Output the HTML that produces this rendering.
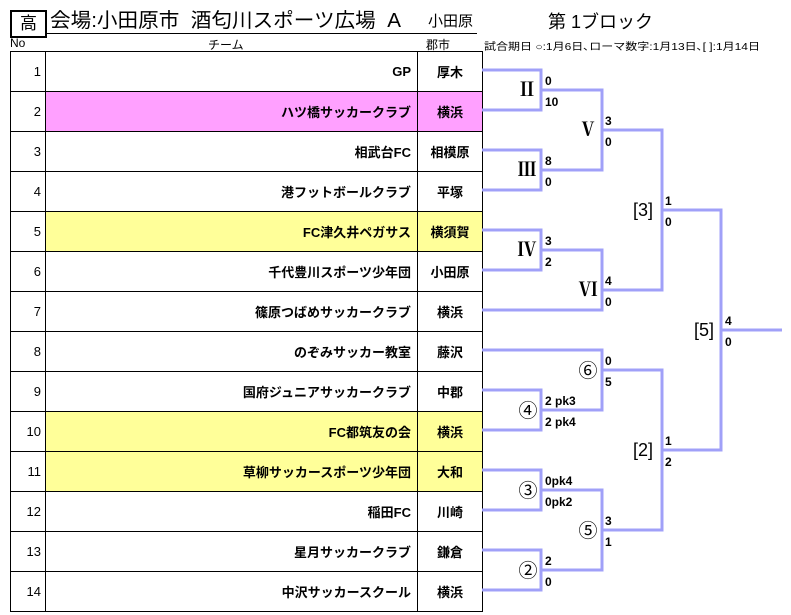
<!DOCTYPE html>
<html><head><meta charset="utf-8"><style>
body{margin:0;width:791px;height:615px;background:#fff;position:relative;overflow:hidden;font-family:"Liberation Sans","Noto Sans CJK JP",sans-serif;}
.a{position:absolute;white-space:nowrap;}
table{position:absolute;left:10px;top:51px;border-collapse:collapse;}
td{border:1px solid #000;height:39px;padding:0;font-size:13px;}
td.n{width:35px;text-align:right;padding-right:4px;box-sizing:border-box;}
td.t{width:372px;text-align:right;padding-right:6px;box-sizing:border-box;font-weight:bold;}
td.c{width:64px;text-align:center;font-weight:bold;}
.p{background:#ffa0ff}.y{background:#ffff99}
svg text{font-family:"Liberation Sans",sans-serif;font-size:12px;font-weight:bold;}
</style></head><body>
<div class="a" style="left:10px;top:10px;width:33px;height:24px;border:2px solid #000;font-size:17px;text-align:center;line-height:24px">高</div>
<div class="a" style="left:50px;top:9px;font-size:20px;line-height:24px;transform:scaleX(1.03);transform-origin:0 0">会場:小田原市&nbsp;&nbsp;酒匂川スポーツ広場&nbsp;&nbsp;A</div>
<div class="a" style="left:46px;top:33px;width:431px;border-top:1px solid #000"></div>
<div class="a" style="left:428px;top:11px;font-size:15px;line-height:22px">小田原</div>
<div class="a" style="left:548px;top:10px;font-size:18px;line-height:24px">第 1ブロック</div>
<div class="a" style="left:10px;top:36px;font-size:12px">No</div>
<div class="a" style="left:208px;top:36px;font-size:12px">チーム</div>
<div class="a" style="left:426px;top:36px;font-size:12px">郡市</div>
<div class="a" style="left:484px;top:38px;font-size:10px;transform:scaleX(1.2);transform-origin:0 0">試合期日 ○:1月6日､ローマ数字:1月13日､[ ]:1月14日</div>
<table>
<tr><td class="n">1</td><td class="t">GP</td><td class="c">厚木</td></tr>
<tr><td class="n">2</td><td class="t p">ハツ橋サッカークラブ</td><td class="c p">横浜</td></tr>
<tr><td class="n">3</td><td class="t">相武台FC</td><td class="c">相模原</td></tr>
<tr><td class="n">4</td><td class="t">港フットボールクラブ</td><td class="c">平塚</td></tr>
<tr><td class="n">5</td><td class="t y">FC津久井ペガサス</td><td class="c y">横須賀</td></tr>
<tr><td class="n">6</td><td class="t">千代豊川スポーツ少年団</td><td class="c">小田原</td></tr>
<tr><td class="n">7</td><td class="t">篠原つばめサッカークラブ</td><td class="c">横浜</td></tr>
<tr><td class="n">8</td><td class="t">のぞみサッカー教室</td><td class="c">藤沢</td></tr>
<tr><td class="n">9</td><td class="t">国府ジュニアサッカークラブ</td><td class="c">中郡</td></tr>
<tr><td class="n">10</td><td class="t y">FC都筑友の会</td><td class="c y">横浜</td></tr>
<tr><td class="n">11</td><td class="t y">草柳サッカースポーツ少年団</td><td class="c y">大和</td></tr>
<tr><td class="n">12</td><td class="t">稲田FC</td><td class="c">川崎</td></tr>
<tr><td class="n">13</td><td class="t">星月サッカークラブ</td><td class="c">鎌倉</td></tr>
<tr><td class="n">14</td><td class="t">中沢サッカースクール</td><td class="c">横浜</td></tr>
</table>
<svg class="a" style="left:0;top:0" width="791" height="615">
<g fill="none" stroke="#a0a0f8" stroke-width="3">
<polyline points="482,70 541,70 541,110 482,110"/>
<polyline points="482,150 541,150 541,190 482,190"/>
<polyline points="482,230 541,230 541,270 482,270"/>
<polyline points="482,390 541,390 541,430 482,430"/>
<polyline points="482,470 541,470 541,510 482,510"/>
<polyline points="482,550 541,550 541,590 482,590"/>
<polyline points="541,90 602,90 602,170 541,170"/>
<polyline points="541,250 602,250 602,310 482,310"/>
<polyline points="482,350 602,350 602,410 541,410"/>
<polyline points="541,490 602,490 602,570 541,570"/>
<polyline points="602,130 662,130 662,290 602,290"/>
<polyline points="602,370 662,370 662,530 602,530"/>
<polyline points="662,210 721,210 721,450 662,450"/>
<line x1="721" y1="330" x2="782" y2="330"/>
</g>
<g text-anchor="middle">
<text x="527" y="96" style="font-size:19px;font-weight:bold;font-family:'Liberation Serif','Noto Serif CJK SC',serif">Ⅱ</text>
<text x="527" y="176" style="font-size:19px;font-weight:bold;font-family:'Liberation Serif','Noto Serif CJK SC',serif">Ⅲ</text>
<text x="527" y="256" style="font-size:19px;font-weight:bold;font-family:'Liberation Serif','Noto Serif CJK SC',serif">Ⅳ</text>
<text x="588" y="136" style="font-size:19px;font-weight:bold;font-family:'Liberation Serif','Noto Serif CJK SC',serif">Ⅴ</text>
<text x="588" y="296" style="font-size:19px;font-weight:bold;font-family:'Liberation Serif','Noto Serif CJK SC',serif">Ⅵ</text>
<text x="643" y="216" style="font-size:18px;font-weight:normal;font-family:'Liberation Sans',sans-serif">[3]</text>
<text x="704" y="336" style="font-size:18px;font-weight:normal;font-family:'Liberation Sans',sans-serif">[5]</text>
<text x="643" y="456" style="font-size:18px;font-weight:normal;font-family:'Liberation Sans',sans-serif">[2]</text>
<text x="528" y="417" style="font-size:19px;font-weight:normal;font-family:'Liberation Sans','Noto Sans CJK JP',sans-serif">④</text>
<text x="528" y="497" style="font-size:19px;font-weight:normal;font-family:'Liberation Sans','Noto Sans CJK JP',sans-serif">③</text>
<text x="528" y="577" style="font-size:19px;font-weight:normal;font-family:'Liberation Sans','Noto Sans CJK JP',sans-serif">②</text>
<text x="588" y="377" style="font-size:19px;font-weight:normal;font-family:'Liberation Sans','Noto Sans CJK JP',sans-serif">⑥</text>
<text x="588" y="537" style="font-size:19px;font-weight:normal;font-family:'Liberation Sans','Noto Sans CJK JP',sans-serif">⑤</text>
</g>
<text x="545" y="85">0</text><text x="545" y="106">10</text>
<text x="545" y="165">8</text><text x="545" y="186">0</text>
<text x="545" y="245">3</text><text x="545" y="266">2</text>
<text x="605" y="125">3</text><text x="605" y="146">0</text>
<text x="605" y="285">4</text><text x="605" y="306">0</text>
<text x="665" y="205">1</text><text x="665" y="226">0</text>
<text x="725" y="325">4</text><text x="725" y="346">0</text>
<text x="605" y="365">0</text><text x="605" y="386">5</text>
<text x="545" y="405">2 pk3</text><text x="545" y="426">2 pk4</text>
<text x="545" y="485">0pk4</text><text x="545" y="506">0pk2</text>
<text x="545" y="565">2</text><text x="545" y="586">0</text>
<text x="605" y="525">3</text><text x="605" y="546">1</text>
<text x="665" y="445">1</text><text x="665" y="466">2</text>
</svg>
</body></html>
